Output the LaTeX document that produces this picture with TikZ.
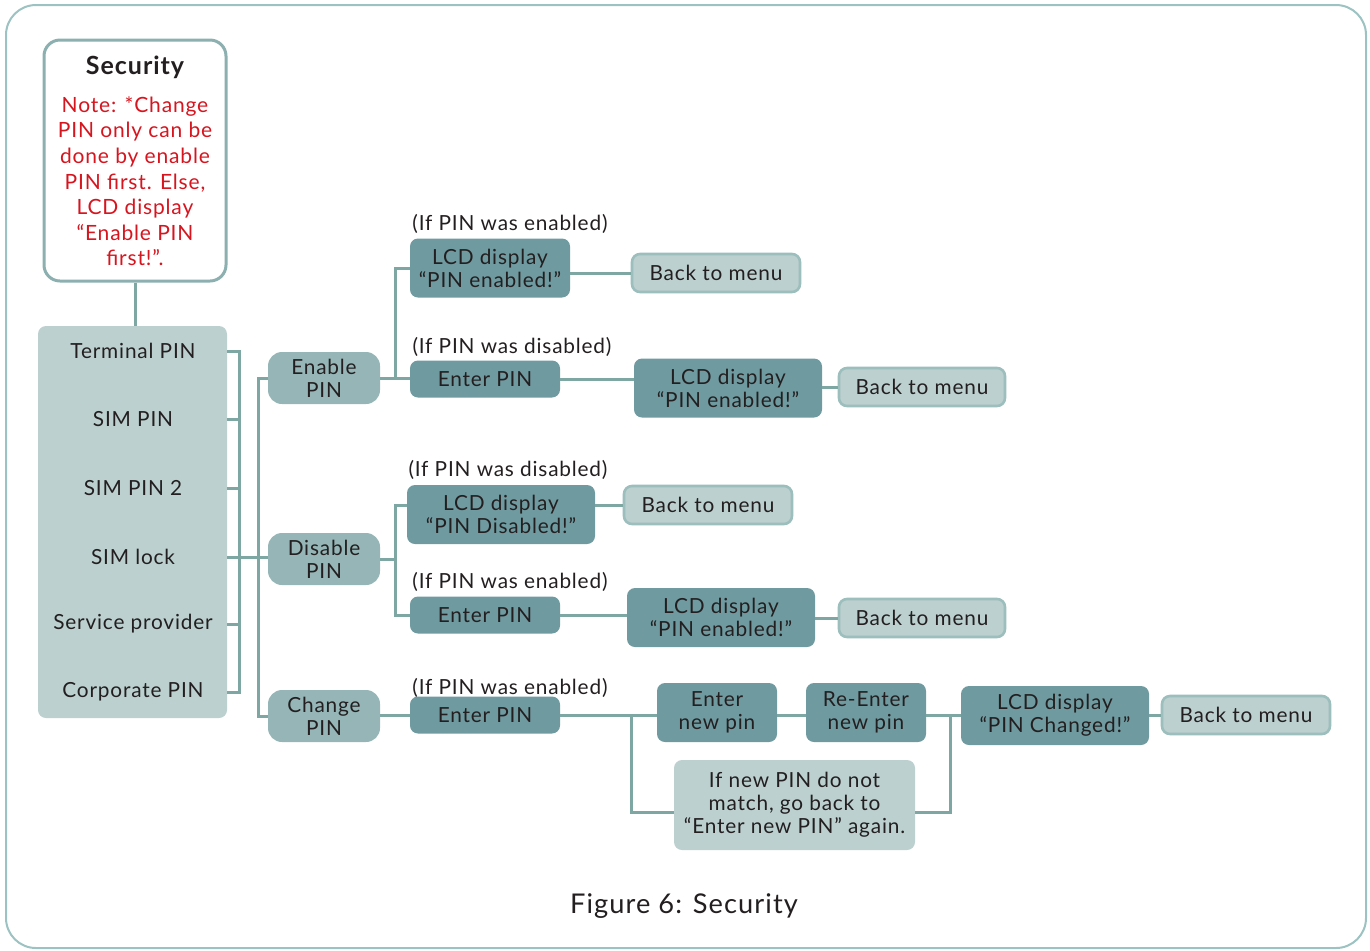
\documentclass[tikz,border=0pt]{standalone}
\usepackage{fontspec}
\setmainfont{Lato}[LetterSpace=4]
\usepackage{xcolor}
\definecolor{tealdark}{HTML}{6F9AA0}
\definecolor{tealmid}{HTML}{95B5B6}
\definecolor{teallight}{HTML}{BCD0CF}
\definecolor{tealback}{HTML}{9CBEBD}
\definecolor{wire}{HTML}{7EA6A3}
\definecolor{frame}{HTML}{9CC2C2}
\definecolor{notered}{HTML}{D7151F}
\definecolor{ink}{HTML}{231F20}

\begin{document}
\begin{tikzpicture}[x=0.5pt,y=-0.5pt,font=\fontsize{10.4}{11.5}\selectfont,text=ink]
	\tikzstyle{box}=[rounded corners=4pt,inner sep=0pt,align=center]
	\tikzstyle{dark}=[box,fill=tealdark]
	\tikzstyle{mid}=[box,fill=tealmid,rounded corners=7pt,minimum width=56pt,minimum height=26pt]
	\tikzstyle{back}=[box,fill=teallight,draw=tealback,line width=1.3pt,minimum height=19pt]
	\tikzstyle{cond}=[inner sep=0pt]
	\tikzstyle{wire}=[draw=wire,line width=1.5pt]

	\useasboundingbox (0,0) rectangle (1370,950);
	\draw[frame,line width=1pt,rounded corners=15pt] (6,5) rectangle (1366,948);

	% left column
	\node[box,fill=white,draw=frame!90!black,line width=1.5pt,rounded corners=8pt,
		minimum width=91pt,minimum height=120.5pt] (security) at (135,160.5) {};
	\node[cond,font=\fontsize{12.5}{14}\selectfont\bfseries] (title) at (135,67) {Security};
	\node[cond,align=center,text=notered,font=\fontsize{10.5}{12.8}\selectfont,anchor=north]
		(note) at (135,96) {Note: *Change\\PIN only can be\\done by enable\\PIN first. Else,\\LCD display\\“Enable PIN\\first!”.};
	\node[box,fill=teallight,minimum width=94.5pt,minimum height=196pt] (list) at (132.5,522) {};
	\node[cond] (t1) at (133,351) {Terminal PIN};
	\node[cond] (t2) at (133,419) {SIM PIN};
	\node[cond] (t3) at (133,488) {SIM PIN 2};
	\node[cond] (t4) at (133,557) {SIM lock};
	\node[cond] (t5) at (133,624) {Service provider};
	\node[cond] (t6) at (133,692) {Corporate PIN};
	\draw[wire] (security.south) -- (list.north -| security.south);

	% menu entries
	\node[mid] (enable) at (324,378) {Enable\\PIN};
	\node[mid] (disable) at (324,559) {Disable\\PIN};
	\node[mid] (change) at (324,716) {Change\\PIN};

	\coordinate (bra) at (239,557);
	\coordinate (brb) at (258,557);
	\foreach \t in {t1,t2,t3,t4,t5,t6}
		\draw[wire] (list.east |- \t) -| (bra);
	\draw[wire] (bra) -- (disable.west |- bra);
	\draw[wire] (brb) |- (enable.west);
	\draw[wire] (brb) |- (change.west);

	% enable
	\node[cond] (lbl1) at (510,224) {(If PIN was enabled)};
	\node[dark,minimum width=80pt,minimum height=29.5pt] (lcdA) at (490,268) {LCD display\\“PIN enabled!”};
	\node[back,minimum width=84pt] (backA) at (716,273) {Back to menu};
	\node[cond] (lbl2) at (512,347) {(If PIN was disabled)};
	\node[dark,minimum width=75pt,minimum height=18.5pt] (enterA) at (485,379) {Enter PIN};
	\node[dark,minimum width=94pt,minimum height=29.5pt] (lcdB) at (728,388) {LCD display\\“PIN enabled!”};
	\node[back,minimum width=83pt] (backB) at (922,387) {Back to menu};
	\coordinate (ja) at (395,378);
	\draw[wire] (enable.east) -- (ja) |- (lcdA.west);
	\draw[wire] (ja) -- (enterA.west |- ja);
	\draw[wire] (lcdA.east |- backA.west) -- (backA.west);
	\draw[wire] (enterA.east) -- (lcdB.west |- enterA.east);
	\draw[wire] (lcdB.east |- backB.west) -- (backB.west);

	% disable
	\node[cond] (lbl3) at (508,470) {(If PIN was disabled)};
	\node[dark,minimum width=94pt,minimum height=29.5pt] (lcdC) at (501,514.5) {LCD display\\“PIN Disabled!”};
	\node[back,minimum width=84pt] (backC) at (708,505) {Back to menu};
	\node[cond] (lbl4) at (510,582) {(If PIN was enabled)};
	\node[dark,minimum width=75pt,minimum height=18.5pt] (enterB) at (485,615) {Enter PIN};
	\node[dark,minimum width=94pt,minimum height=29.5pt] (lcdD) at (721,617.5) {LCD display\\“PIN enabled!”};
	\node[back,minimum width=83pt] (backD) at (922,618) {Back to menu};
	\coordinate (jb) at (395,559);
	\draw[wire] (disable.east) -- (jb);
	\draw[wire] (jb) |- (lcdC.west |- backC.west);
	\draw[wire] (jb) |- (enterB.west);
	\draw[wire] (lcdC.east |- backC.west) -- (backC.west);
	\draw[wire] (enterB.east) -- (lcdD.west |- enterB.east);
	\draw[wire] (lcdD.east |- backD.west) -- (backD.west);

	% change
	\node[cond] (lbl5) at (510,688) {(If PIN was enabled)};
	\node[dark,minimum width=75pt,minimum height=18.5pt] (enterC) at (485,715) {Enter PIN};
	\node[dark,minimum width=60pt,minimum height=29.5pt] (newpin) at (717,712.5) {Enter\\new pin};
	\node[dark,minimum width=60pt,minimum height=29.5pt] (repin) at (866,712.5) {Re-Enter\\new pin};
	\node[dark,minimum width=94pt,minimum height=29.5pt] (lcdE) at (1055,715.5) {LCD display\\“PIN Changed!”};
	\node[back,minimum width=84pt] (backE) at (1246,715) {Back to menu};
	\node[box,fill=teallight,minimum width=120.5pt,minimum height=45pt] (retry) at (794.5,805)
		{If new PIN do not\\match, go back to\\“Enter new PIN” again.};
	\coordinate (lpa) at (631,714);
	\coordinate (lpb) at (950,714);
	\draw[wire] (change.east |- enterC.west) -- (enterC.west);
	\draw[wire] (enterC.east) -- (newpin.west |- enterC.east);
	\draw[wire] (newpin.east |- enterC.east) -- (repin.west |- enterC.east);
	\draw[wire] (repin.east |- enterC.east) -- (lcdE.west |- enterC.east);
	\draw[wire] (lcdE.east |- backE.west) -- (backE.west);
	\draw[wire] (lpa) |- ([yshift=-3.5pt]retry.west);
	\draw[wire] ([yshift=-3.5pt]retry.east) -| (lpb);

	\node[cond,font=\fontsize{13.6}{16}\selectfont] (caption) at (684,906) {Figure 6: Security};
\end{tikzpicture}
\end{document}
